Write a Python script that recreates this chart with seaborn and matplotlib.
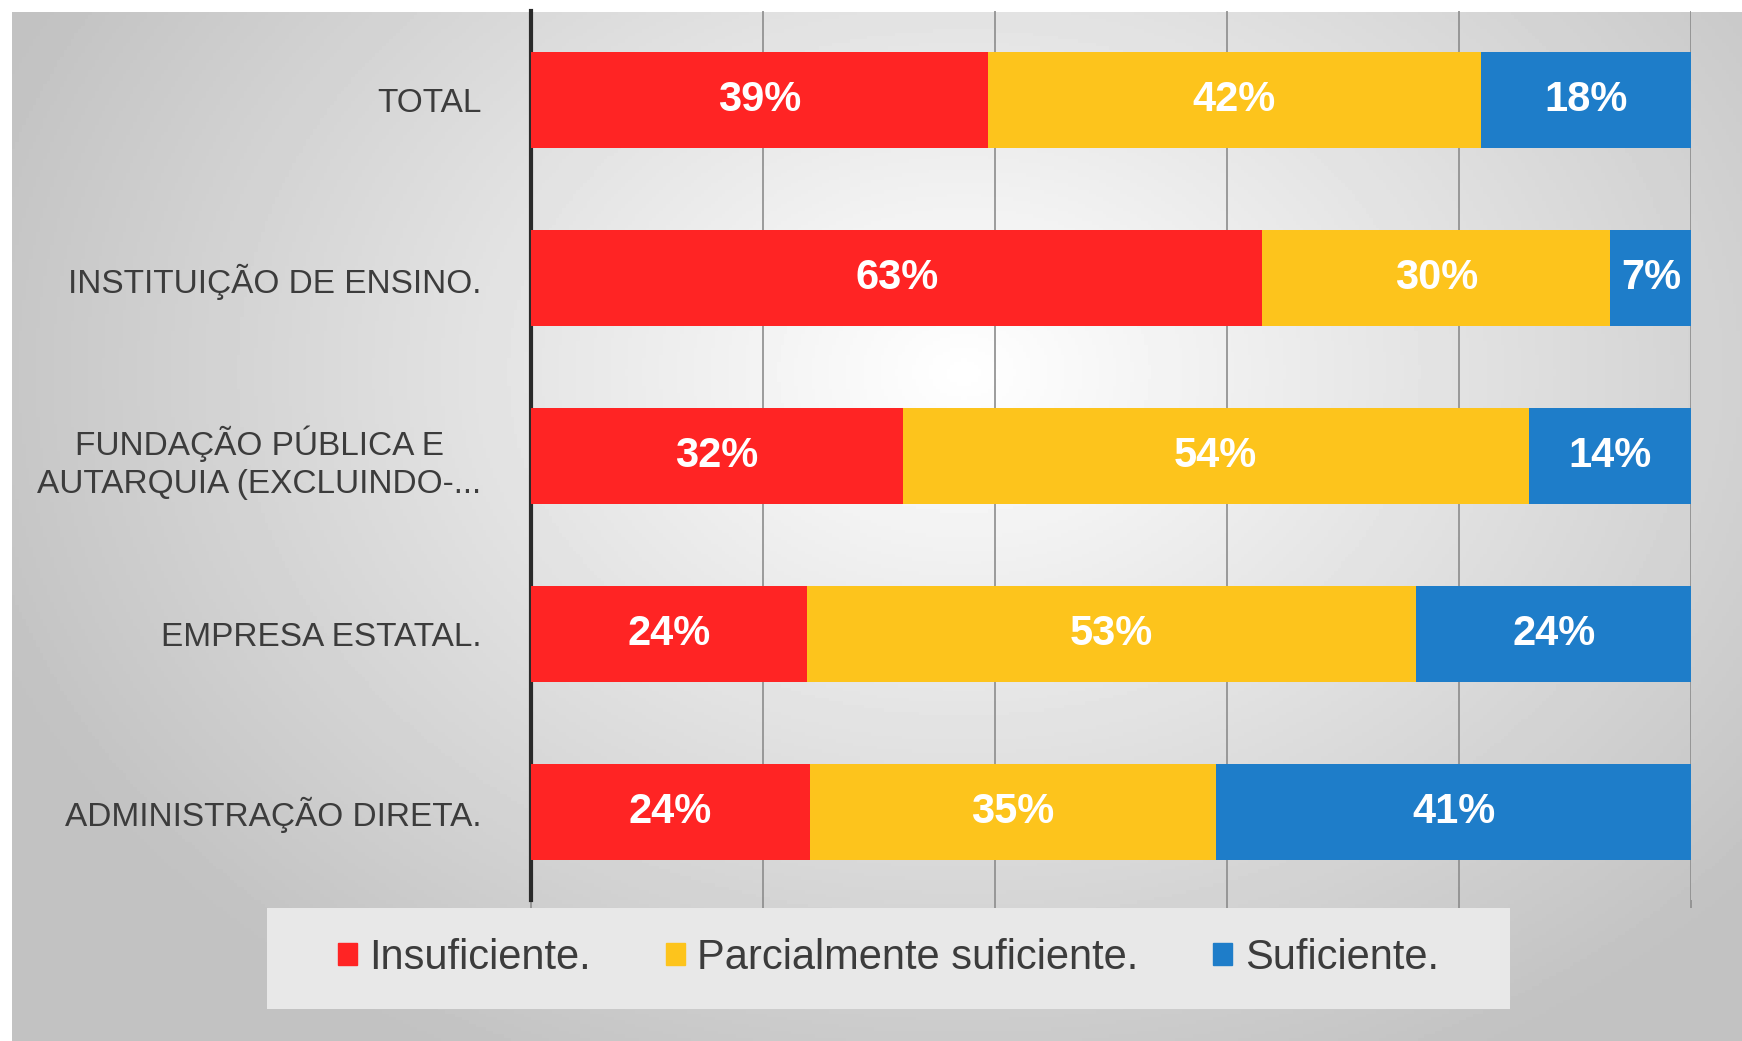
import numpy as np
import pandas as pd
import matplotlib
matplotlib.use("Agg")
import matplotlib.pyplot as plt
import seaborn as sns

categorias = [
    "TOTAL",
    "INSTITUIÇÃO DE ENSINO.",
    "FUNDAÇÃO PÚBLICA E\nAUTARQUIA (EXCLUINDO-...",
    "EMPRESA ESTATAL.",
    "ADMINISTRAÇÃO DIRETA.",
]
series = ["Insuficiente.", "Parcialmente suficiente.", "Suficiente."]
insuficiente = [39, 63, 32, 24, 24]
parcial = [42, 30, 54, 53, 35]
suficiente = [18, 7, 14, 24, 41]
cores = ["#FF2424", "#FDC41C", "#1E7DC9"]

sns.set_theme(style="white")
plt.rcParams["font.family"] = ["Liberation Sans", "DejaVu Sans"]

df = pd.DataFrame({"cat": categorias, series[0]: insuficiente,
                   series[1]: parcial, series[2]: suficiente})
tot = df[series].sum(axis=1)
share = df[series].div(tot, axis=0) * 100
cum = share.cumsum(axis=1)

fig = plt.figure(figsize=(17.42, 10.41), dpi=100)
fig.patch.set_facecolor("white")

# fundo com gradiente radial
bg = fig.add_axes([12 / 1742, 0, 1 - 12 / 1742, 1 - 12 / 1041])
yy, xx = np.mgrid[0:1:300j, 0:1:500j]
d = np.sqrt(((xx - 0.55) / 0.75) ** 2 + ((yy - 0.35) / 0.95) ** 2)
g = np.clip(1 - 0.30 * d, 0.76, 1.0)
bg.imshow(g, cmap="gray", vmin=0, vmax=1, aspect="auto", extent=[0, 1, 1, 0])
bg.axis("off")

# caixa clara atras da legenda
fig.patches.append(plt.Rectangle((0.153, 0.031), 0.714, 0.097,
                                 transform=fig.transFigure,
                                 facecolor="#e8e8e8", edgecolor="none",
                                 zorder=1))

ax = fig.add_axes([0.305, 0.135, 0.666, 0.854])
ax.patch.set_alpha(0)

for i in range(len(series) - 1, -1, -1):
    sns.barplot(x=cum[series[i]], y=df["cat"], color=cores[i], orient="h",
                width=0.54, saturation=1, linewidth=0, ax=ax, zorder=3)

for i, s in enumerate(series):
    left = cum[s] - share[s]
    for j in range(len(categorias)):
        ax.text(left[j] + share[s][j] / 2, j, f"{df[s][j]}%", ha="center",
                va="center", color="white", fontsize=30, fontweight="bold",
                zorder=5)

ax.set_xlim(0, 100)
ax.set_ylim(4.5, -0.5)
ax.set_xticks([0, 20, 40, 60, 80, 100])
ax.set_xticklabels([])
ax.grid(axis="x", color="#8c8c8c", linewidth=1.2, zorder=0)
ax.tick_params(axis="x", bottom=True, length=6, width=1.2, color="#8c8c8c")
ax.tick_params(axis="y", left=False, pad=30, labelsize=24, labelcolor="#3c3c3c")
for lab in ax.get_yticklabels():
    lab.set_multialignment("center")
    lab.set_linespacing(1.3)
ax.set_xlabel("")
ax.set_ylabel("")
for side in ["top", "right", "bottom"]:
    ax.spines[side].set_visible(False)
ax.spines["left"].set_color("#2a2a2a")
ax.spines["left"].set_linewidth(3)

handles = [plt.Rectangle((0, 0), 1, 1, color=c) for c in cores]
leg = fig.legend(handles, series, loc="center", bbox_to_anchor=(0.51, 0.080),
                 ncol=3, fontsize=30, frameon=False, handlelength=0.45,
                 handleheight=0.45, handletextpad=0.3, columnspacing=1.8)
for t in leg.get_texts():
    t.set_color("#3c3c3c")

fig.savefig("out.png", dpi=100)
